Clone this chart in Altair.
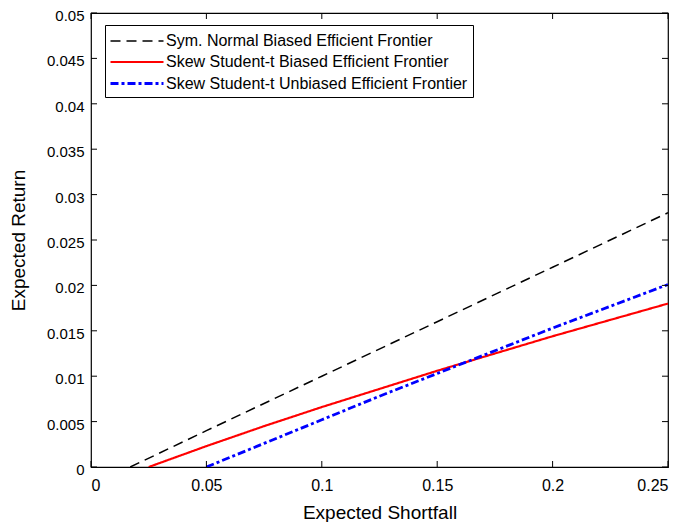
import altair as alt
import pandas as pd

# ---- data ----
series_names = [
    "Sym. Normal Biased Efficient Frontier",
    "Skew Student-t Biased Efficient Frontier",
    "Skew Student-t Unbiased Efficient Frontier",
]
normal_es = [0.017, 0.05, 0.1, 0.15, 0.2, 0.25]
normal_ret = [0.0, 0.004, 0.010, 0.016, 0.022, 0.028]

skewb_es = [0.025, 0.05, 0.075, 0.1, 0.125, 0.15, 0.175, 0.2, 0.225, 0.25]
skewb_ret = [0.0, 0.0023, 0.0045, 0.0066, 0.0086, 0.0106, 0.0125, 0.0144, 0.0162, 0.018]

skewu_es = [0.05, 0.075, 0.1, 0.125, 0.15, 0.175, 0.2, 0.225, 0.25]
skewu_ret = [0.0, 0.0026, 0.0052, 0.0078, 0.0103, 0.0128, 0.0153, 0.0177, 0.0201]

x_ticks = [0, 0.05, 0.1, 0.15, 0.2, 0.25]
y_ticks = [0, 0.005, 0.01, 0.015, 0.02, 0.025, 0.03, 0.035, 0.04, 0.045, 0.05]

colors = ["black", "red", "blue"]
dashes = [[10, 6], [1, 0], [8, 3, 3, 3]]
widths = [1.5, 2.8, 2.8]

rows = []
for name, xs, ys in zip(series_names, [normal_es, skewb_es, skewu_es],
                        [normal_ret, skewb_ret, skewu_ret]):
    for i, (a, b) in enumerate(zip(xs, ys)):
        rows.append({"series": name, "es": a, "ret": b, "order": i})
df = pd.DataFrame(rows)

W, H = 577, 454
FONT = "Liberation Sans"

xscale = alt.Scale(domain=[0, 0.25], nice=False, zero=False)
yscale = alt.Scale(domain=[0, 0.05], nice=False, zero=False)

xaxis = alt.Axis(values=x_ticks, format="~g", title="Expected Shortfall",
                 ticks=False, tickSize=0, labelPadding=10, grid=False,
                 domain=False, titleX=W / 2, titleY=45, titleBaseline="middle")
yaxis = alt.Axis(values=y_ticks, format="~g", title="Expected Return",
                 ticks=False, tickSize=0, labelPadding=7, labelOffset=2.5,
                 labelFontSize=15,
                 grid=False, domain=False, titleX=-72.5, titleY=H / 2,
                 titleBaseline="middle", titleAngle=-90)

lines = alt.Chart(df).mark_line(clip=True).encode(
    x=alt.X("es:Q", scale=xscale, axis=xaxis),
    y=alt.Y("ret:Q", scale=yscale, axis=yaxis),
    color=alt.Color("series:N", sort=series_names,
                    scale=alt.Scale(domain=series_names, range=colors),
                    legend=alt.Legend(title=None)),
    strokeDash=alt.StrokeDash("series:N", sort=series_names,
                              scale=alt.Scale(domain=series_names, range=dashes),
                              legend=alt.Legend(title=None)),
    strokeWidth=alt.StrokeWidth("series:N", sort=series_names,
                                scale=alt.Scale(domain=series_names, range=widths),
                                legend=alt.Legend(title=None)),
    order="order:Q",
)

xt = pd.DataFrame({"es": x_ticks})
yt = pd.DataFrame({"ret": y_ticks})
TL = 6
tick_bottom = alt.Chart(xt).mark_rule(color="black", strokeWidth=1).encode(
    x=alt.X("es:Q", scale=xscale, axis=xaxis), y=alt.value(H), y2=alt.value(H - TL))
tick_top = alt.Chart(xt).mark_rule(color="black", strokeWidth=1).encode(
    x=alt.X("es:Q", scale=xscale, axis=xaxis), y=alt.value(0), y2=alt.value(TL))
tick_left = alt.Chart(yt).mark_rule(color="black", strokeWidth=1).encode(
    y=alt.Y("ret:Q", scale=yscale, axis=yaxis), x=alt.value(0), x2=alt.value(TL))
tick_right = alt.Chart(yt).mark_rule(color="black", strokeWidth=1).encode(
    y=alt.Y("ret:Q", scale=yscale, axis=yaxis), x=alt.value(W), x2=alt.value(W - TL))

chart = alt.layer(lines, tick_bottom, tick_top, tick_left, tick_right).properties(
    width=W, height=H,
    autosize=alt.AutoSizeParams(type="none"),
    padding={"left": 83, "top": 5, "right": 9, "bottom": 55},
).configure_view(
    stroke="black", strokeWidth=1.2
).configure_axis(
    labelFont=FONT, titleFont=FONT, labelFontSize=16, titleFontSize=19,
    labelColor="black", titleColor="black", titleFontWeight="normal",
).configure_legend(
    orient="none", legendX=14, legendY=12,
    strokeColor="black", fillColor="white", padding=5,
    labelFont=FONT, labelFontSize=16, labelColor="black", labelLimit=0,
    symbolType="M-1.1,0H4.2", symbolSize=400, symbolStrokeWidth=2,
    labelOffset=33, rowPadding=1.5, cornerRadius=0,
)

chart.save("out.html", embed_options={"renderer": "svg", "actions": False})
